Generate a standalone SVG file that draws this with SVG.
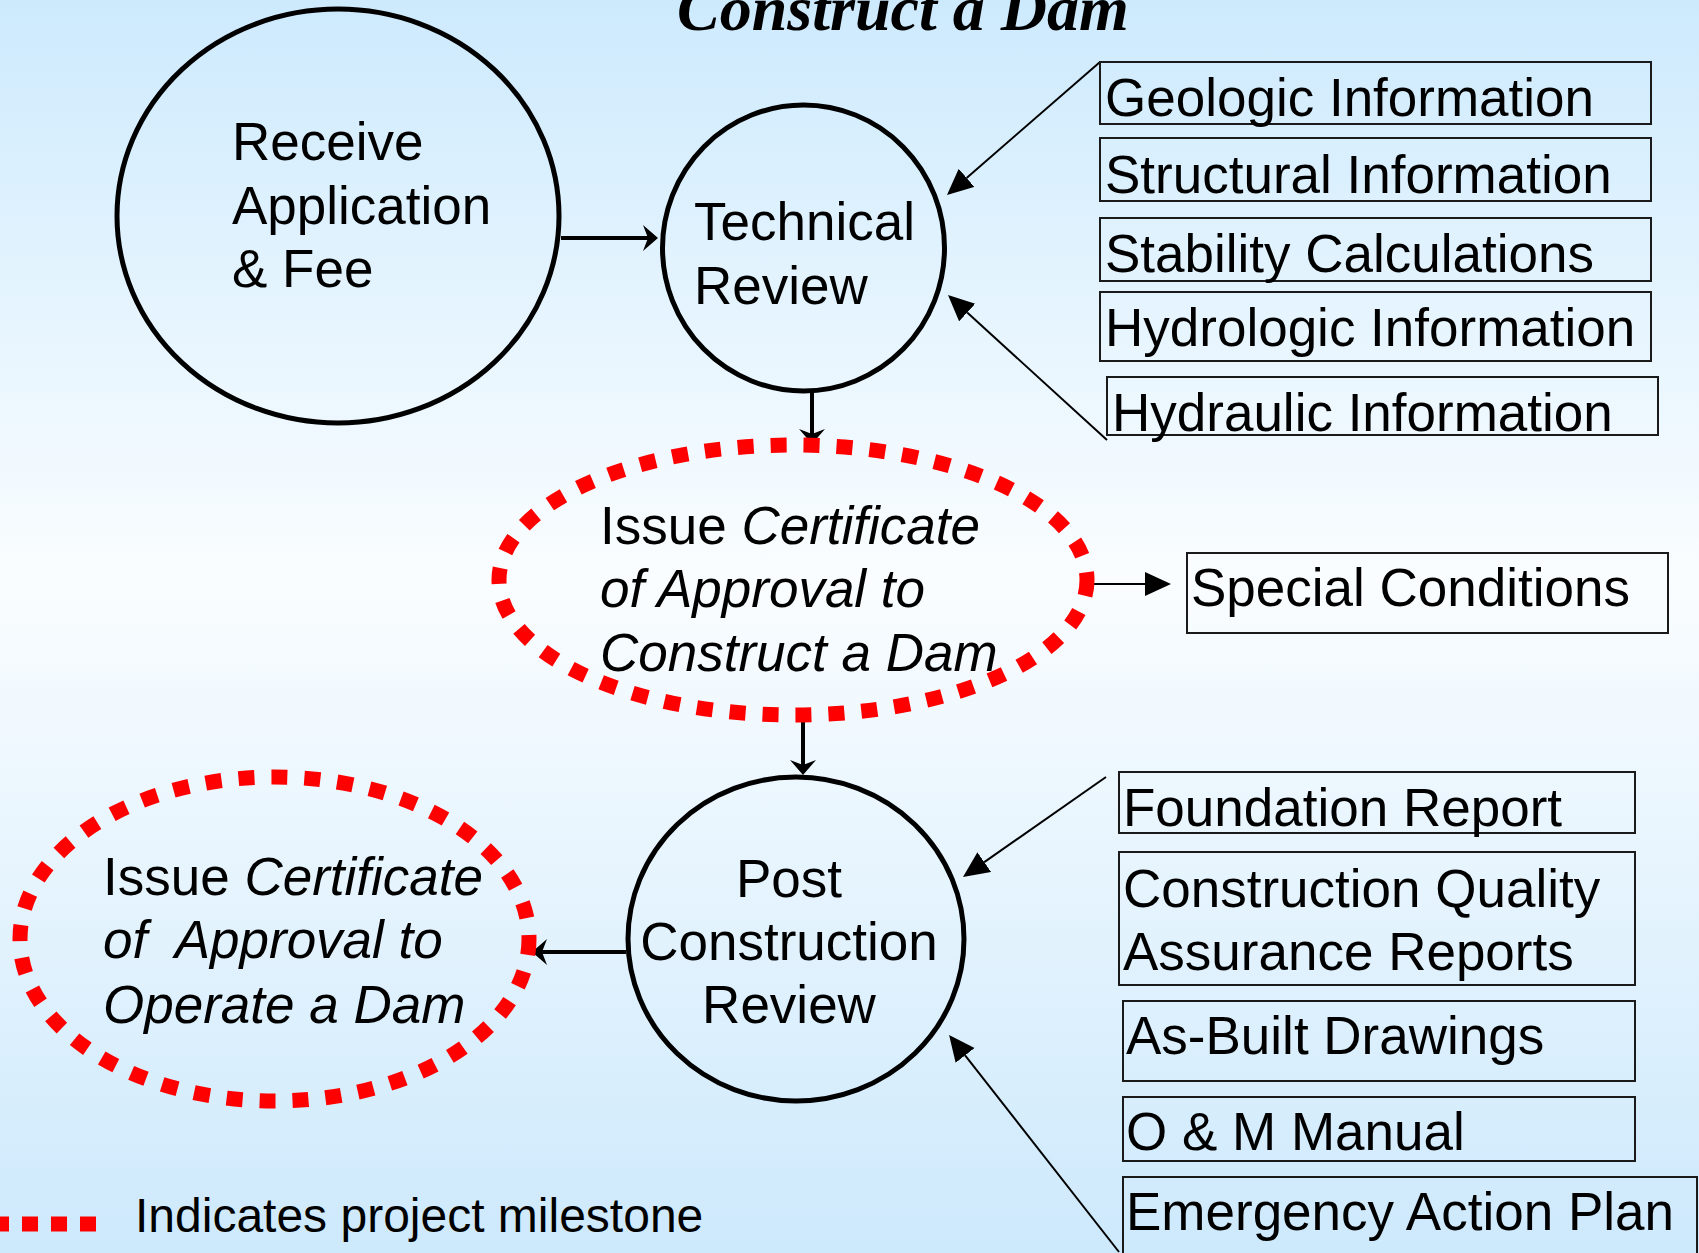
<svg xmlns="http://www.w3.org/2000/svg" width="1699" height="1253" viewBox="0 0 1699 1253">
  <defs>
    <linearGradient id="bg" x1="0" y1="0" x2="0" y2="1">
      <stop offset="0" stop-color="#cdeafd"/>
      <stop offset="0.46" stop-color="#fafdff"/>
      <stop offset="1" stop-color="#cde9fc"/>
    </linearGradient>
    <marker id="stealth" markerUnits="userSpaceOnUse" markerWidth="30" markerHeight="30" refX="5" refY="13" orient="auto">
      <path d="M0,0 L15,13 L0,26 L5,13 z" fill="#000"/>
    </marker>
    <marker id="tri" markerUnits="userSpaceOnUse" markerWidth="30" markerHeight="30" refX="0" refY="12" orient="auto">
      <path d="M0,0 L26,12 L0,24 z" fill="#000"/>
    </marker>
    <style>
      .t { font-family: "Liberation Sans", Arial, sans-serif; font-size: 53px; fill: #000; }
      .it { font-style: italic; }
      .proc { fill: none; stroke: #000; stroke-width: 5; }
      .mile { fill: none; stroke: #ff0000; stroke-width: 15; stroke-dasharray: 16 17; }
      .box { fill: none; stroke: #1a1a1a; stroke-width: 2; }
      .thick { stroke: #000; stroke-width: 4; fill: none; }
      .thin { stroke: #000; stroke-width: 2; fill: none; }
    </style>
  </defs>

  <rect x="0" y="0" width="1699" height="1253" fill="url(#bg)"/>

  <text x="677" y="30" font-family="'Liberation Serif', 'Times New Roman', serif" font-size="64" font-weight="bold" font-style="italic" fill="#000">Construct a Dam</text>

  <g id="connectors">
    <line class="thick" x1="561" y1="238" x2="648" y2="238" marker-end="url(#stealth)"/>
    <line class="thick" x1="812" y1="390" x2="812" y2="434" marker-end="url(#stealth)"/>
    <line class="thin" x1="1100" y1="62" x2="966.6" y2="177.9" marker-end="url(#tri)"/>
    <line class="thin" x1="1107" y1="440" x2="967.2" y2="312.5" marker-end="url(#tri)"/>
    <line class="thin" x1="1092" y1="584" x2="1145" y2="584" stroke-width="2.5" marker-end="url(#tri)"/>
    <line class="thick" x1="803" y1="715" x2="803" y2="765" stroke-width="3.5" marker-end="url(#stealth)"/>
    <line class="thick" x1="626" y1="952" x2="542" y2="952" stroke-width="4.5" marker-end="url(#stealth)"/>
    <line class="thin" x1="1106" y1="777" x2="984.3" y2="862.1" marker-end="url(#tri)"/>
    <line class="thin" x1="1119" y1="1252" x2="965.1" y2="1055.4" marker-end="url(#tri)"/>
  </g>

  <g id="receive">
    <ellipse class="proc" cx="338" cy="216" rx="221" ry="207"/>
    <text class="t" x="232" y="160">Receive</text>
    <text class="t" x="232" y="224">Application</text>
    <text class="t" x="232" y="287">&amp; Fee</text>
  </g>

  <g id="technical-review">
    <ellipse class="proc" cx="803.5" cy="248" rx="141" ry="143"/>
    <text class="t" x="694" y="240">Technical</text>
    <text class="t" x="694" y="304">Review</text>
  </g>

  <g id="cert-construct">
    <ellipse class="mile" cx="793" cy="580" rx="294" ry="135"/>
    <text class="t" x="600" y="544">Issue <tspan class="it">Certificate</tspan></text>
    <text class="t it" x="600" y="607">of Approval to</text>
    <text class="t it" x="600" y="671">Construct a Dam</text>
  </g>

  <g id="post-construction">
    <ellipse class="proc" cx="796" cy="939" rx="168" ry="162"/>
    <text class="t" x="789" y="897" text-anchor="middle">Post</text>
    <text class="t" x="789" y="960" text-anchor="middle">Construction</text>
    <text class="t" x="789" y="1023" text-anchor="middle">Review</text>
  </g>

  <g id="cert-operate">
    <ellipse class="mile" cx="274.5" cy="939" rx="254.5" ry="162"/>
    <text class="t" x="103" y="895">Issue <tspan class="it">Certificate</tspan></text>
    <text class="t it" x="103" y="958" xml:space="preserve">of  Approval to</text>
    <text class="t it" x="103" y="1023">Operate a Dam</text>
  </g>

  <g id="geologic">
    <rect class="box" x="1100" y="62" width="551" height="62"/>
    <text class="t" x="1105" y="116">Geologic Information</text>
  </g>
  <g id="structural">
    <rect class="box" x="1100" y="138" width="551" height="63"/>
    <text class="t" x="1105" y="193">Structural Information</text>
  </g>
  <g id="stability">
    <rect class="box" x="1100" y="218" width="551" height="63"/>
    <text class="t" x="1105" y="272">Stability Calculations</text>
  </g>
  <g id="hydrologic">
    <rect class="box" x="1100" y="292" width="551" height="69"/>
    <text class="t" x="1105" y="346">Hydrologic Information</text>
  </g>
  <g id="hydraulic">
    <rect class="box" x="1107" y="377" width="551" height="58"/>
    <text class="t" x="1112" y="431">Hydraulic Information</text>
  </g>

  <g id="special-conditions">
    <rect class="box" x="1187" y="553" width="481" height="80" stroke="#000" stroke-width="2.5"/>
    <text class="t" x="1191" y="606">Special Conditions</text>
  </g>

  <g id="foundation">
    <rect class="box" x="1119" y="772" width="516" height="61"/>
    <text class="t" x="1123" y="826">Foundation Report</text>
  </g>
  <g id="cqa">
    <rect class="box" x="1119" y="852" width="516" height="133"/>
    <text class="t" x="1123" y="907">Construction Quality</text>
    <text class="t" x="1123" y="970">Assurance Reports</text>
  </g>
  <g id="as-built">
    <rect class="box" x="1123" y="1001" width="512" height="80"/>
    <text class="t" x="1126" y="1054">As-Built Drawings</text>
  </g>
  <g id="om-manual">
    <rect class="box" x="1123" y="1097" width="512" height="64"/>
    <text class="t" x="1126" y="1150">O &amp; M Manual</text>
  </g>
  <g id="emergency">
    <rect class="box" x="1123" y="1177" width="574" height="90"/>
    <text class="t" x="1126" y="1230">Emergency Action Plan</text>
  </g>

  <g id="legend">
    <line x1="-7" y1="1224" x2="100" y2="1224" stroke="#ff0000" stroke-width="15" stroke-dasharray="16 13"/>
    <text class="t" x="135" y="1232" style="font-size:48px">Indicates project milestone</text>
  </g>
</svg>
